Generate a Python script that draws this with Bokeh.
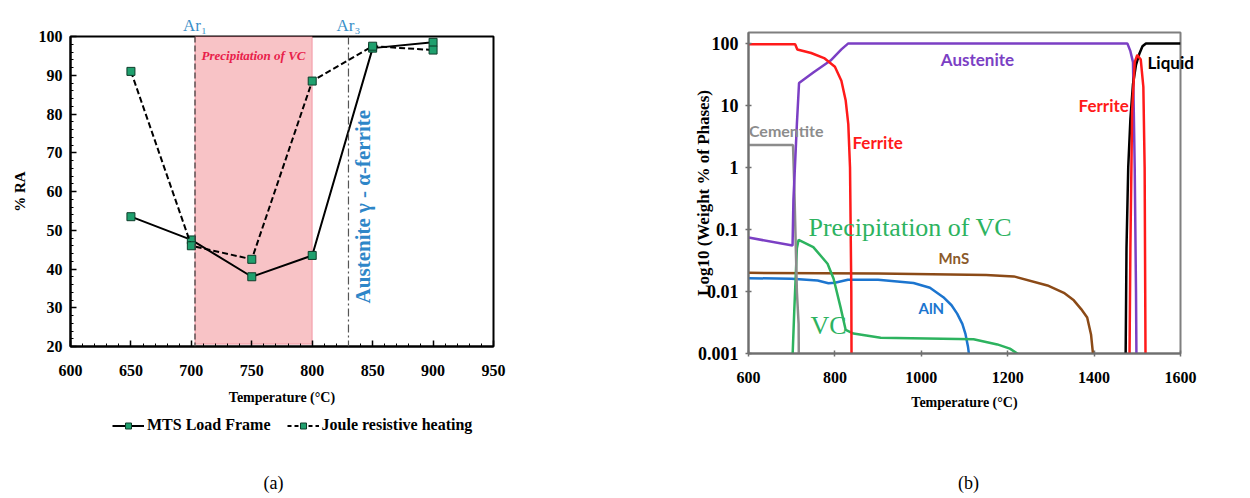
import math
from bokeh.plotting import figure
from bokeh.layouts import row, column
from bokeh.models import (Label, Span, BoxAnnotation, FixedTicker, Legend, LegendItem,
                          CustomJSTickFormatter, LinearAxis, LogAxis)
from bokeh.embed import file_html
from bokeh.resources import INLINE

# ---------------- data (a) ----------------
temps_a = [650, 700, 750, 800, 850, 900]
ra_mts = [53.5, 47.5, 38.0, 43.5, 97.0, 98.5]
ra_joule = [91.0, 46.0, 42.5, 88.5, 97.5, 96.5]
x_ticks_a = [600, 650, 700, 750, 800, 850, 900, 950]
y_ticks_a = [20, 30, 40, 50, 60, 70, 80, 90, 100]
ar1_temp = 703
ar3_temp = 830
vc_window = (703, 800)
series_names = ["MTS Load Frame", "Joule resistive heating"]

# ---------------- data (b) ----------------
ferrite_lo_t = [600, 708, 713, 745, 775, 800, 815, 825, 831, 835, 838, 838.5]
ferrite_lo_w = [97, 97, 80, 70, 58, 42, 25, 12, 5, 1, 0.01, 0.0009]
ferrite_hi_t = [1482, 1484, 1488, 1494, 1500, 1508, 1514, 1517, 1519]
ferrite_hi_w = [0.0009, 0.05, 8, 50, 65, 55, 20, 1, 0.0009]
austenite_t = [600, 702, 704, 712, 717, 750, 790, 815, 831, 1477, 1484, 1490, 1494, 1497, 1498]
austenite_w = [0.074, 0.055, 0.3, 5, 23, 34, 53, 80, 100, 100, 75, 50, 1, 0.01, 0.0009]
liquid_t = [1473, 1475, 1479, 1484, 1490, 1497, 1505, 1512, 1520, 1600]
liquid_w = [0.0009, 0.05, 1, 6, 22, 45, 69, 90, 100, 100]
cementite_t = [600, 703, 706, 712, 716, 716.5]
cementite_w = [2.3, 2.3, 0.5, 0.01, 0.003, 0.0009]
vc_t = [702, 706, 712, 716, 750, 783, 797, 813, 825, 843, 906, 1121, 1176, 1205, 1232]
vc_w = [0.0009, 0.005, 0.05, 0.068, 0.052, 0.028, 0.016, 0.0056, 0.0024, 0.0021, 0.0018,
        0.0017, 0.0014, 0.0012, 0.0009]
aln_t = [600, 700, 760, 785, 800, 830, 900, 982, 1020, 1051, 1070, 1083, 1095, 1102, 1108, 1111]
aln_w = [0.0164, 0.016, 0.015, 0.0136, 0.0138, 0.0155, 0.0155, 0.0137, 0.0115, 0.0081, 0.006,
         0.0044, 0.003, 0.0021, 0.0013, 0.0009]
mns_t = [600, 900, 1150, 1214, 1292, 1330, 1353, 1370, 1384, 1393, 1398]
mns_w = [0.02, 0.0195, 0.0185, 0.0175, 0.0125, 0.0095, 0.0072, 0.0052, 0.0038, 0.002, 0.0009]
x_ticks_b = [600, 800, 1000, 1200, 1400, 1600]
y_ticks_b = [0.001, 0.01, 0.1, 1, 10, 100]

SERIF = "Liberation Serif"
SANS = "Lato"
MARKER_FILL = "#1FA06E"
MARKER_LINE = "#0E3D2A"


def lab(p, x, y, text, size, color="black", font=SERIF, style="bold", align="center",
        angle=0.0):
    p.add_layout(Label(x=x, y=y, text=text, text_font=font, text_font_style=style,
                       text_font_size=size, text_color=color, text_align=align,
                       text_baseline="middle", angle=angle))


def blank_fig(w, h):
    f = figure(width=w, height=h, x_range=(0, w), y_range=(0, h), output_backend="svg",
               toolbar_location=None, min_border=0)
    f.axis.visible = False
    f.grid.visible = False
    f.outline_line_color = None
    return f


# ================= Figure (a) =================
p1 = figure(frame_width=423, frame_height=310, x_range=(600, 950), y_range=(20, 100),
            output_backend="svg", toolbar_location=None,
            min_border_left=70, min_border_right=132, min_border_top=36, min_border_bottom=64)
p1.grid.visible = False
p1.outline_line_color = "black"
p1.outline_line_width = 2
p1.outline_line_alpha = 1
p1.xaxis.ticker = FixedTicker(ticks=x_ticks_a, minor_ticks=list(range(600, 951, 10)))
p1.yaxis.ticker = FixedTicker(ticks=y_ticks_a, minor_ticks=list(range(20, 101, 2)))
for ax in (p1.xaxis[0], p1.yaxis[0]):
    ax.axis_line_color = "black"
    ax.axis_line_width = 2
    ax.major_tick_in = 6
    ax.major_tick_out = 0
    ax.minor_tick_in = 3
    ax.minor_tick_out = 0
    ax.major_tick_line_color = "black"
    ax.major_tick_line_width = 1.5
    ax.minor_tick_line_color = "black"
    ax.major_label_text_font = SERIF
    ax.major_label_text_font_style = "bold"
    ax.major_label_text_font_size = "16px"
    ax.major_label_text_color = "black"
    ax.axis_label_text_font = SERIF
    ax.axis_label_text_font_style = "bold"
    ax.axis_label_text_color = "black"
p1.xaxis.major_label_standoff = 18
p1.yaxis.major_label_standoff = 8
p1.xaxis.axis_label = "Temperature (\u00b0C)"
p1.xaxis.axis_label_text_font_size = "14px"
p1.xaxis.axis_label_standoff = 11
p1.yaxis.axis_label = "% RA"
p1.yaxis.axis_label_text_font_size = "15px"
p1.yaxis.axis_label_standoff = 8

# Ar labels above the frame
ar_axis = LinearAxis(ticker=FixedTicker(ticks=[ar1_temp, ar3_temp], minor_ticks=[]),
                     formatter=CustomJSTickFormatter(
                         code="return tick < 760 ? 'Ar\u2081' : 'Ar\u2083';"),
                     axis_line_alpha=0, major_tick_in=0, major_tick_out=0,
                     major_label_standoff=2, major_label_text_font=SERIF,
                     major_label_text_font_size="17px", major_label_text_color="#3A8FC8")
p1.add_layout(ar_axis, "above")

box = BoxAnnotation(left=vc_window[0], right=vc_window[1], bottom=20.6, top=100,
                    fill_color="#F8C3C6", fill_alpha=1.0, line_color="#E83C5A",
                    line_width=1.3, level="underlay")
p1.add_layout(box)
p1.add_layout(Span(location=ar1_temp, dimension="height", line_color="#444444",
                   line_dash="6 3", line_width=1.3))
p1.add_layout(Span(location=ar3_temp, dimension="height", line_color="#555555",
                   line_dash="8 3 2 3", line_width=1.2))

p1.line(temps_a, ra_mts, line_color="black", line_width=2)
p1.scatter(temps_a, ra_mts, marker="square", size=8, fill_color=MARKER_FILL,
           line_color=MARKER_LINE, line_width=1)
p1.line(temps_a, ra_joule, line_color="black", line_width=2, line_dash="6 3")
p1.scatter(temps_a, ra_joule, marker="square", size=8, fill_color=MARKER_FILL,
           line_color=MARKER_LINE, line_width=1)

lab(p1, 751.4, 95.1, "Precipitation of VC", "13px", color="#E8204A", style="bold italic")
lab(p1, 842.4, 56.1, "Austenite \u03b3 - \u03b1-ferrite", "21px", color="#2E86C8",
    angle=math.pi / 2)

# legend + caption strip under (a); its series renderers use the same data but lie
# outside this strip's visible range, so only their legend swatches show
leg_a = blank_fig(625, 88)
e_mts_l = leg_a.line(temps_a, ra_mts, line_color="black", line_width=2)
e_mts_m = leg_a.scatter(temps_a, ra_mts, marker="square", size=8, fill_color=MARKER_FILL,
                        line_color=MARKER_LINE, line_width=1)
e_j_l = leg_a.line(temps_a, ra_joule, line_color="black", line_width=2, line_dash="4 3")
e_j_m = leg_a.scatter(temps_a, ra_joule, marker="square", size=8, fill_color=MARKER_FILL,
                      line_color=MARKER_LINE, line_width=1)
legend = Legend(items=[LegendItem(label=series_names[0], renderers=[e_mts_l, e_mts_m]),
                       LegendItem(label=series_names[1], renderers=[e_j_l, e_j_m])],
                location=(112, 63), orientation="horizontal", padding=0, margin=0,
                spacing=16, glyph_width=32, glyph_height=15, label_standoff=3,
                label_height=20, label_text_font=SERIF, label_text_font_style="bold",
                label_text_font_size="16px", label_text_color="black",
                background_fill_alpha=0, border_line_alpha=0)
leg_a.add_layout(legend)
lab(leg_a, 273, 16, "(a)", "18px", style="normal")

# ================= Figure (b) =================
p2 = figure(frame_width=432, frame_height=321, x_range=(600, 1600), y_range=(0.001, 150),
            y_axis_type="log", output_backend="svg", toolbar_location=None,
            min_border_left=123, min_border_right=70, min_border_top=32, min_border_bottom=62)
p2.grid.visible = False
p2.outline_line_color = "#7F7F7F"
p2.outline_line_width = 2
p2.outline_line_alpha = 1
p2.xaxis.ticker = FixedTicker(ticks=x_ticks_b, minor_ticks=[])
p2.yaxis.ticker = FixedTicker(ticks=y_ticks_b, minor_ticks=[])
p2.yaxis.formatter = CustomJSTickFormatter(code="return tick.toString();")
for ax in (p2.xaxis[0], p2.yaxis[0]):
    ax.axis_line_color = "#6F6F6F"
    ax.axis_line_width = 2
    ax.major_tick_in = 3
    ax.major_tick_out = 3
    ax.minor_tick_in = 0
    ax.minor_tick_out = 0
    ax.major_tick_line_color = "#6F6F6F"
    ax.major_tick_line_width = 1.5
    ax.major_label_text_font = SERIF
    ax.major_label_text_font_style = "bold"
    ax.major_label_text_color = "black"
    ax.axis_label_text_font = SERIF
    ax.axis_label_text_font_style = "bold"
    ax.axis_label_text_color = "black"
p2.xaxis.major_label_text_font_size = "16px"
p2.yaxis.major_label_text_font_size = "18px"
p2.xaxis.major_label_standoff = 15
p2.yaxis.major_label_standoff = 7
p2.xaxis.axis_label = "Temperature (\u00b0C)"
p2.xaxis.axis_label_text_font_size = "14px"
p2.xaxis.axis_label_standoff = 9
p2.yaxis.axis_label = "Log10 (Weight % of Phases)"
p2.yaxis.axis_label_text_font_size = "17px"
p2.yaxis.axis_label_standoff = -18

LW = 2.5
p2.line(mns_t, mns_w, line_color="#8B4A17", line_width=LW)
p2.line(aln_t, aln_w, line_color="#1C75CF", line_width=LW)
p2.line(vc_t, vc_w, line_color="#2DB35F", line_width=LW)
p2.line(cementite_t, cementite_w, line_color="#8C8C8C", line_width=LW)
p2.line(austenite_t, austenite_w, line_color="#7B3FC4", line_width=LW)
p2.line(liquid_t, liquid_w, line_color="black", line_width=LW)
p2.line(ferrite_lo_t, ferrite_lo_w, line_color="#FF1A1A", line_width=LW)
p2.line(ferrite_hi_t, ferrite_hi_w, line_color="#FF1A1A", line_width=LW)

# "Liquid" straddles the right frame edge, so it is drawn as a right-side axis label
liquid_axis = LogAxis(ticker=FixedTicker(ticks=[49.4], minor_ticks=[]),
                      formatter=CustomJSTickFormatter(code="return 'Liquid';"),
                      axis_line_alpha=0, major_tick_in=0, major_tick_out=0,
                      major_label_standoff=-33, major_label_text_font=SANS,
                      major_label_text_font_style="bold",
                      major_label_text_font_size="17px", major_label_text_color="black")
p2.add_layout(liquid_axis, "right")

lab(p2, 1130, 55.2, "Austenite", "17px", color="#7B3FC4", font=SANS)
lab(p2, 1364, 10, "Ferrite", "17px", color="#FF1A1A", font=SANS, align="left")
lab(p2, 840.7, 2.53, "Ferrite", "17px", color="#FF1A1A", font=SANS, align="left")
lab(p2, 601, 3.95, "Cementite", "16px", color="#8C8C8C", font=SANS, align="left")
lab(p2, 738.9, 0.1077, "Precipitation of VC", "26px", color="#2DB35F", style="normal",
    align="left")
lab(p2, 1039.8, 0.0353, "MnS", "15px", color="#8B5A2B", font=SANS, align="left")
lab(p2, 993.5, 0.00532, "AlN", "15px", color="#1C75CF", font=SANS, align="left")
lab(p2, 743.5, 0.00283, "VC", "26px", color="#2DB35F", style="normal", align="left")

cap_b = blank_fig(625, 83)
lab(cap_b, 343, 16, "(b)", "18px", style="normal")

layout = row(column(column(p1), column(leg_a)), column(column(p2), column(cap_b)))
open("out.html", "w").write(file_html(layout, INLINE))
